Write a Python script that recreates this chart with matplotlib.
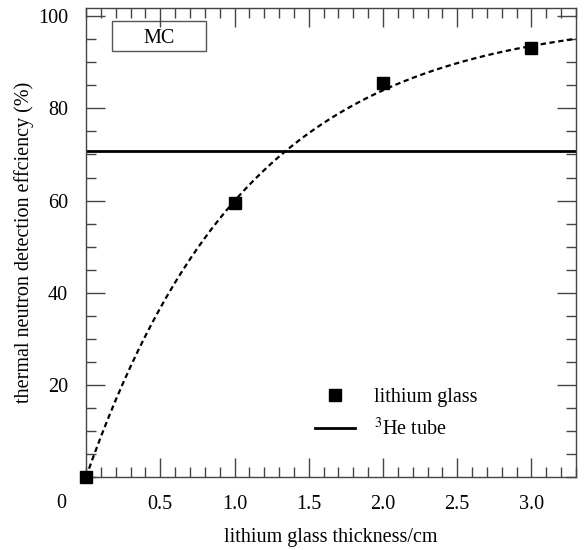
import numpy as np
import matplotlib
matplotlib.use("Agg")
import matplotlib.pyplot as plt
from matplotlib.ticker import MultipleLocator
from matplotlib.patches import Rectangle

plt.rcParams["font.family"] = ["Liberation Serif", "DejaVu Serif"]
plt.rcParams["mathtext.fontset"] = "stix"

# data
thickness_cm = [0.0, 1.0, 2.0, 3.0]
efficiency_pct = [0.0, 59.5, 85.6, 93.1]
he3_efficiency_pct = 70.7
xtick_values = [0.5, 1.0, 1.5, 2.0, 2.5, 3.0]
xtick_labels = ["0.5", "1.0", "1.5", "2.0", "2.5", "3.0"]
ytick_values = [20, 40, 60, 80, 100]

# fit of 100*(1-exp(-k x)) through the origin, done on the points
x = np.array(thickness_cm[1:])
z = -np.log(1 - np.array(efficiency_pct[1:]) / 100.0)
k = np.sum(x * z) / np.sum(x * x)
xf = np.linspace(0.0, 3.3, 200)
yf = 100 * (1 - np.exp(-k * xf))

fs = 14.5
fig = plt.figure(figsize=(5.86, 5.5), dpi=100)
ax = fig.add_axes([0.1468, 0.1327, 0.8362, 0.8528])

ax.plot(xf, yf, color="black", lw=1.6, ls=(0, (2.4, 1.6)))
ax.axhline(he3_efficiency_pct, color="black", lw=2.0, label="$^3$He tube")
ax.plot(thickness_cm, efficiency_pct, ls="none", marker="s", ms=8.5,
        color="black", label="lithium glass", clip_on=False, zorder=5)

ax.set_xlim(0, 3.3)
ax.set_ylim(0, 101.8)
ax.set_xticks(xtick_values)
ax.set_xticklabels(xtick_labels)
ax.set_yticks(ytick_values)
ax.xaxis.set_minor_locator(MultipleLocator(0.1))
ax.yaxis.set_minor_locator(MultipleLocator(5))
ax.tick_params(which="both", direction="in", top=True, right=True,
               labelsize=fs, color="#444444", width=1.0)
ax.tick_params(which="major", length=14, pad=13)
ax.tick_params(which="minor", length=7)
ax.tick_params(axis="y", which="major", pad=13)
for s in ax.spines.values():
    s.set_color("#444444")
    s.set_linewidth(1.0)

ax.text(-0.05, -0.057, "0", transform=ax.transAxes, fontsize=fs,
        ha="center", va="center")

ax.set_xlabel("lithium glass thickness/cm", fontsize=fs, labelpad=10)
ax.set_ylabel("thermal neutron detection effciency (%)", fontsize=fs,
              labelpad=3)

ax.add_patch(Rectangle((0.053, 0.908), 0.192, 0.064, transform=ax.transAxes,
                       fc="white", ec="#555555", lw=1.0))
ax.text(0.149, 0.935, "MC", transform=ax.transAxes, fontsize=fs,
        ha="center", va="center")

h, l = ax.get_legend_handles_labels()
ax.legend(h[::-1], l[::-1], loc="lower right", bbox_to_anchor=(0.835, 0.041),
          frameon=False, fontsize=fs, handlelength=2.0, numpoints=1,
          labelspacing=0.5, handletextpad=0.9, markerscale=1.0)

fig.savefig("out.png", dpi=100)
